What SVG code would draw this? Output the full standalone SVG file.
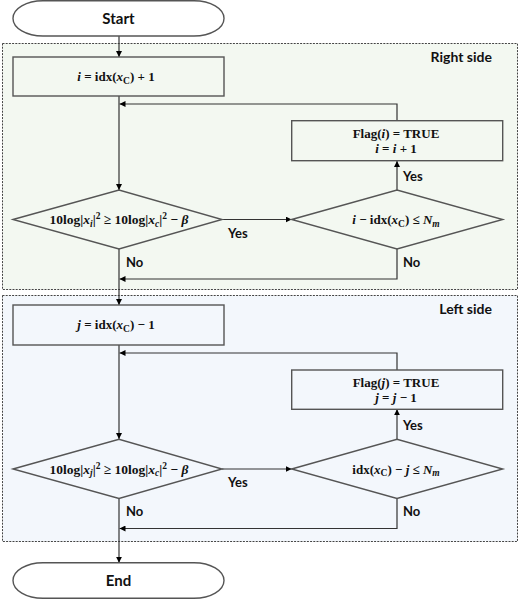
<svg xmlns="http://www.w3.org/2000/svg" width="520" height="600" viewBox="0 0 520 600">
<defs>
<marker id="arr" viewBox="0 0 10 10" refX="10" refY="5" markerWidth="6" markerHeight="6" orient="auto" markerUnits="userSpaceOnUse">
<path d="M0,0 L10,5 L0,10 z" fill="#000"/>
</marker>
<style>
.region{stroke:#444;stroke-width:1;stroke-dasharray:2 1.2}
.shape{stroke:#555;stroke-width:1.4}
.conn{fill:none;stroke:#333;stroke-width:1.2;marker-end:url(#arr)}
.lbl{font-family:Lato,"Open Sans","Liberation Sans",sans-serif;font-weight:bold;fill:#111}
.math{font-family:"Liberation Serif","DejaVu Serif",serif;font-weight:bold;font-size:13px;fill:#111}
.big{font-size:13.5px}
.it{font-style:italic}
.sm{font-size:9.5px}
</style>
</defs>
<rect class="region" x="2.5" y="43.5" width="515" height="246" fill="#f3f8f1"/>
<rect class="region" x="2.5" y="295.5" width="515" height="246" fill="#f3f7fc"/>
<text class="lbl" x="492" y="62" font-size="14" text-anchor="end">Right side</text>
<text class="lbl" x="492" y="314" font-size="14" text-anchor="end">Left side</text>

<g id="connectors">
<path class="conn" d="M119,36 V57"/>
<path class="conn" d="M119,96 V190"/>
<path class="conn" d="M397,120.7 V104 H119.5"/>
<path class="conn" d="M222,219.5 H291.7"/>
<path class="conn" d="M397,190 V161"/>
<path class="conn" d="M397,249 V279 H119.5"/>
<path class="conn" d="M119,249 V305"/>
<path class="conn" d="M119,345 V439"/>
<path class="conn" d="M397,370 V353 H119.5"/>
<path class="conn" d="M222,469 H291.7"/>
<path class="conn" d="M397,439 V409.3"/>
<path class="conn" d="M397,498.5 V528.5 H119.5"/>
<path class="conn" d="M119,498.5 V562.7"/>
<text class="lbl" x="228" y="238" font-size="13">Yes</text>
<text class="lbl" x="403" y="181" font-size="13">Yes</text>
<text class="lbl" x="126" y="267" font-size="13">No</text>
<text class="lbl" x="403" y="267" font-size="13">No</text>
<text class="lbl" x="228" y="487" font-size="13">Yes</text>
<text class="lbl" x="403" y="430" font-size="13">Yes</text>
<text class="lbl" x="126" y="516" font-size="13">No</text>
<text class="lbl" x="403" y="516" font-size="13">No</text>
</g>

<g id="start">
<rect class="shape" x="13" y="0.7" width="211" height="35.3" rx="30" ry="17.6" fill="#fff"/>
<text class="lbl" x="118.5" y="23.5" font-size="15" text-anchor="middle">Start</text>
</g>

<g id="init-i">
<rect class="shape" x="13" y="57" width="211" height="39" fill="#f3f8f1"/>
<text class="math" x="116" y="81" text-anchor="middle"><tspan class="it">i</tspan> =  idx(<tspan class="it">x</tspan><tspan class="sm" dy="2.5">C</tspan><tspan dy="-2.5">) + 1</tspan></text>
</g>

<g id="cond-i">
<polygon class="shape" points="13,219.5 119,190 222,219.5 119,249" fill="#f3f8f1"/>
<text class="math big" x="119" y="224" text-anchor="middle">10log|<tspan class="it">x</tspan><tspan class="sm it" dy="2.5">i</tspan><tspan dy="-2.5">|</tspan><tspan class="sm" dy="-5">2</tspan><tspan dy="5"> ≥ 10log|</tspan><tspan class="it">x</tspan><tspan class="sm it" dy="2.5">c</tspan><tspan dy="-2.5">|</tspan><tspan class="sm" dy="-5">2</tspan><tspan dy="5"> − </tspan><tspan class="it">β</tspan></text>
</g>

<g id="range-i">
<polygon class="shape" points="291.7,219.5 397,190 502.7,219.5 397,249" fill="#f3f8f1"/>
<text class="math" x="396" y="224" text-anchor="middle"><tspan class="it">i</tspan> − idx(<tspan class="it">x</tspan><tspan class="sm" dy="2.5">C</tspan><tspan dy="-2.5">) ≤ </tspan><tspan class="it">N</tspan><tspan class="sm it" dy="2.5">m</tspan></text>
</g>

<g id="flag-i">
<rect class="shape" x="291.7" y="120.7" width="211" height="40" fill="#f3f8f1"/>
<text class="math" x="396" y="138" text-anchor="middle">Flag(<tspan class="it">i</tspan>) = TRUE</text>
<text class="math" x="396" y="153" text-anchor="middle"><tspan class="it">i</tspan> = <tspan class="it">i</tspan> + 1</text>
</g>

<g id="init-j">
<rect class="shape" x="13" y="305" width="211" height="40" fill="#f3f7fc"/>
<text class="math" x="116" y="329" text-anchor="middle"><tspan class="it">j</tspan> =  idx(<tspan class="it">x</tspan><tspan class="sm" dy="2.5">C</tspan><tspan dy="-2.5">) − 1</tspan></text>
</g>

<g id="cond-j">
<polygon class="shape" points="13,469 119,439.3 222,469 119,498.5" fill="#f3f7fc"/>
<text class="math big" x="119" y="473.5" text-anchor="middle">10log|<tspan class="it">x</tspan><tspan class="sm it" dy="2.5">j</tspan><tspan dy="-2.5">|</tspan><tspan class="sm" dy="-5">2</tspan><tspan dy="5"> ≥ 10log|</tspan><tspan class="it">x</tspan><tspan class="sm it" dy="2.5">c</tspan><tspan dy="-2.5">|</tspan><tspan class="sm" dy="-5">2</tspan><tspan dy="5"> − </tspan><tspan class="it">β</tspan></text>
</g>

<g id="range-j">
<polygon class="shape" points="291.7,469 397,439.3 502.7,469 397,498.5" fill="#f3f7fc"/>
<text class="math" x="396" y="473.5" text-anchor="middle">idx(<tspan class="it">x</tspan><tspan class="sm" dy="2.5">C</tspan><tspan dy="-2.5">) − </tspan><tspan class="it">j</tspan> ≤ <tspan class="it">N</tspan><tspan class="sm it" dy="2.5">m</tspan></text>
</g>

<g id="flag-j">
<rect class="shape" x="291.7" y="370" width="211" height="39.3" fill="#f3f7fc"/>
<text class="math" x="396" y="387" text-anchor="middle">Flag(<tspan class="it">j</tspan>) = TRUE</text>
<text class="math" x="396" y="402" text-anchor="middle"><tspan class="it">j</tspan> = <tspan class="it">j</tspan> − 1</text>
</g>

<g id="end">
<rect class="shape" x="13" y="562.7" width="211" height="35.6" rx="30" ry="17.8" fill="#fff"/>
<text class="lbl" x="118.5" y="585.5" font-size="15" text-anchor="middle">End</text>
</g>
</svg>
